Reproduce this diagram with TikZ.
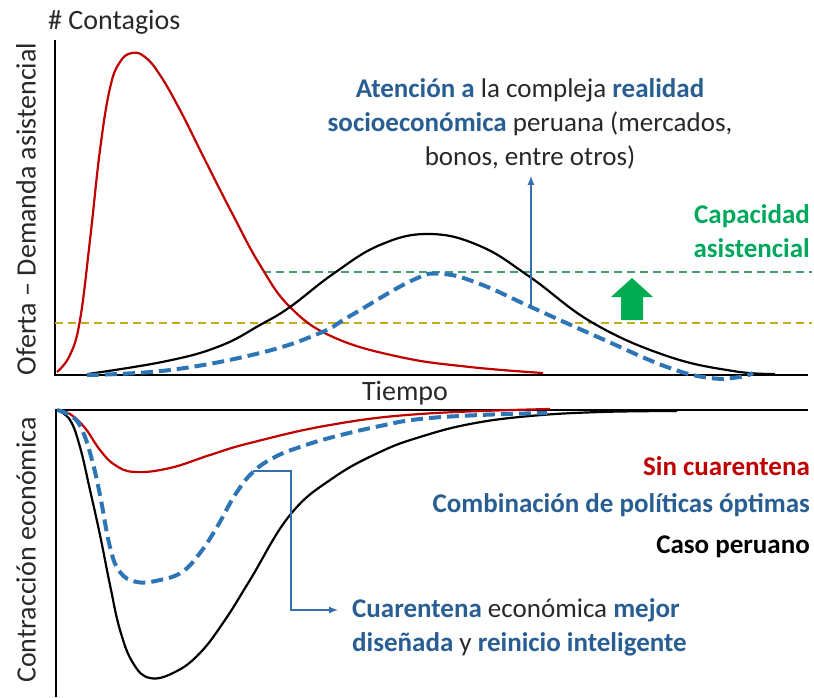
\documentclass[tikz,border=0pt]{standalone}
\usepackage{fontspec}
\setmainfont{Carlito}
\usepackage{tikz}
\usetikzlibrary{arrows,shapes,positioning}
\definecolor{rojo}{RGB}{192,0,0}
\definecolor{azulc}{RGB}{46,117,182}
\definecolor{azult}{RGB}{40,94,146}
\definecolor{azulf}{RGB}{52,110,172}
\definecolor{verdet}{RGB}{0,168,92}
\definecolor{verdel}{RGB}{70,160,110}
\definecolor{verdef}{RGB}{0,172,82}
\definecolor{ocre}{RGB}{200,170,30}
\definecolor{gris}{RGB}{40,40,40}
\newcommand{\grueso}{4pt}
\newcommand{\fino}{2.2pt}

\begin{document}
\begin{tikzpicture}[x=1pt,y=-1pt]
    \tikzset{txt/.style = {font=\fontsize{27}{34}\selectfont, inner sep=0pt, text=gris},
             ejetxt/.style = {txt, font=\fontsize{28}{34}\selectfont},
             eje/.style = {line width=1.4pt, black},
             roja/.style = {rojo, line width=\fino},
             negra/.style = {black, line width=\fino},
             azul/.style = {azulc, line width=\grueso, dash pattern=on 12pt off 6pt},
             umbral/.style = {line width=1.5pt, dash pattern=on 8pt off 5pt},
             flecha/.style = {azulf, line width=2pt, -latex}}
    \useasboundingbox (0,0) rectangle (814,697);
    \begin{scope}
        \node[ejetxt, anchor=west] (cont) at (48,22) {\# Contagios};
        \node[ejetxt, rotate=90] (oferta) at (26,209) {Oferta -- Demanda asistencial};
        \node[ejetxt] (tiempo) at (405,393) {Tiempo};
        \coordinate (o1) at (55,375);
        \draw[eje] (55,40) -- (o1) -- (808,375);

        \draw[umbral, verdel] (263,272) -- (812,272);
        \draw[umbral, ocre] (55,323) -- (812,323);

        \draw[roja] plot[smooth, tension=0.7] coordinates {(57,372) (70,355) (80,320) (90,240) (100,150) (110,88) (120,62) (132,53) (145,57) (160,75) (180,110) (205,160) (233,215) (260,265) (290,307) (333,337) (400,357) (470,367) (543,373)};
        \draw[negra] plot[smooth, tension=0.7] coordinates {(88,374) (167,361) (220,346) (260,325) (290,307) (333,274) (380,245) (429,234) (480,246) (530,277) (593,323) (667,356) (733,371) (775,374)};
        \draw[azul] plot[smooth, tension=0.7] coordinates {(87,375) (170,370) (260,353) (320,333) (350,316) (413,280) (443,274) (480,284) (531,307) (600,338) (667,367) (710,378) (740,377) (753,373)};

        \node[txt, align=center] (atencion) at (530,124) {\textcolor{azult}{\bfseries Atención a} la compleja \textcolor{azult}{\bfseries realidad}\\ \textcolor{azult}{\bfseries socioeconómica} peruana (mercados,\\ bonos, entre otros)};
        \coordinate (pico) at (531,307);
        \coordinate (punta) at (531,176);
        \draw[flecha] (pico) -- (punta);

        \node[txt, text=verdet, align=right, anchor=east] (capacidad) at (810,231) {\bfseries Capacidad\\ \bfseries asistencial};
        \fill[verdef] (621,320) -- (621,297) -- (611,297) -- (632,278) -- (653,297) -- (643,297) -- (643,320) -- cycle;
    \end{scope}
    \begin{scope}
        \node[ejetxt, rotate=90] (contraccion) at (26,550) {Contracción económica};
        \coordinate (o2) at (56,410);
        \draw[eje] (56,697) -- (o2) -- (808,410);

        \draw[roja] plot[smooth, tension=0.7] coordinates {(57,410) (70,414) (85,428) (100,450) (115,465) (135,472) (170,468) (210,455) (250,443) (330,425) (420,414) (550,409)};
        \draw[negra] plot[smooth, tension=0.7] coordinates {(57,410) (70,420) (80,447) (90,490) (100,535) (110,585) (120,630) (133,663) (150,678) (175,672) (200,653) (225,620) (250,580) (290,515) (333,478) (380,452) (420,437) (470,424) (530,416) (600,412) (677,411)};
        \draw[azul] plot[smooth, tension=0.7] coordinates {(57,410) (73,417) (83,432) (92,460) (100,495) (110,547) (120,572) (137,582) (160,580) (182,572) (200,553) (217,527) (235,495) (253,472) (275,457) (300,447) (333,437) (380,426) (420,419) (480,415) (547,413)};

        \node[txt, text=rojo, anchor=east] (sin) at (810,466) {\bfseries Sin cuarentena};
        \node[txt, text=azult, anchor=east] (combi) at (810,505) {\bfseries Combinación de políticas óptimas};
        \node[txt, text=black, anchor=east] (caso) at (810,547) {\bfseries Caso peruano};

        \node[txt, align=left, anchor=west] (cuarentena) at (352,627) {\textcolor{azult}{\bfseries Cuarentena} económica \textcolor{azult}{\bfseries mejor}\\ \textcolor{azult}{\bfseries diseñada} y \textcolor{azult}{\bfseries reinicio inteligente}};
        \coordinate (codo) at (253,471);
        \coordinate (llega) at (338,610);
        \draw[flecha] (codo) -- (291,471) |- (llega);
    \end{scope}
\end{tikzpicture}
\end{document}
